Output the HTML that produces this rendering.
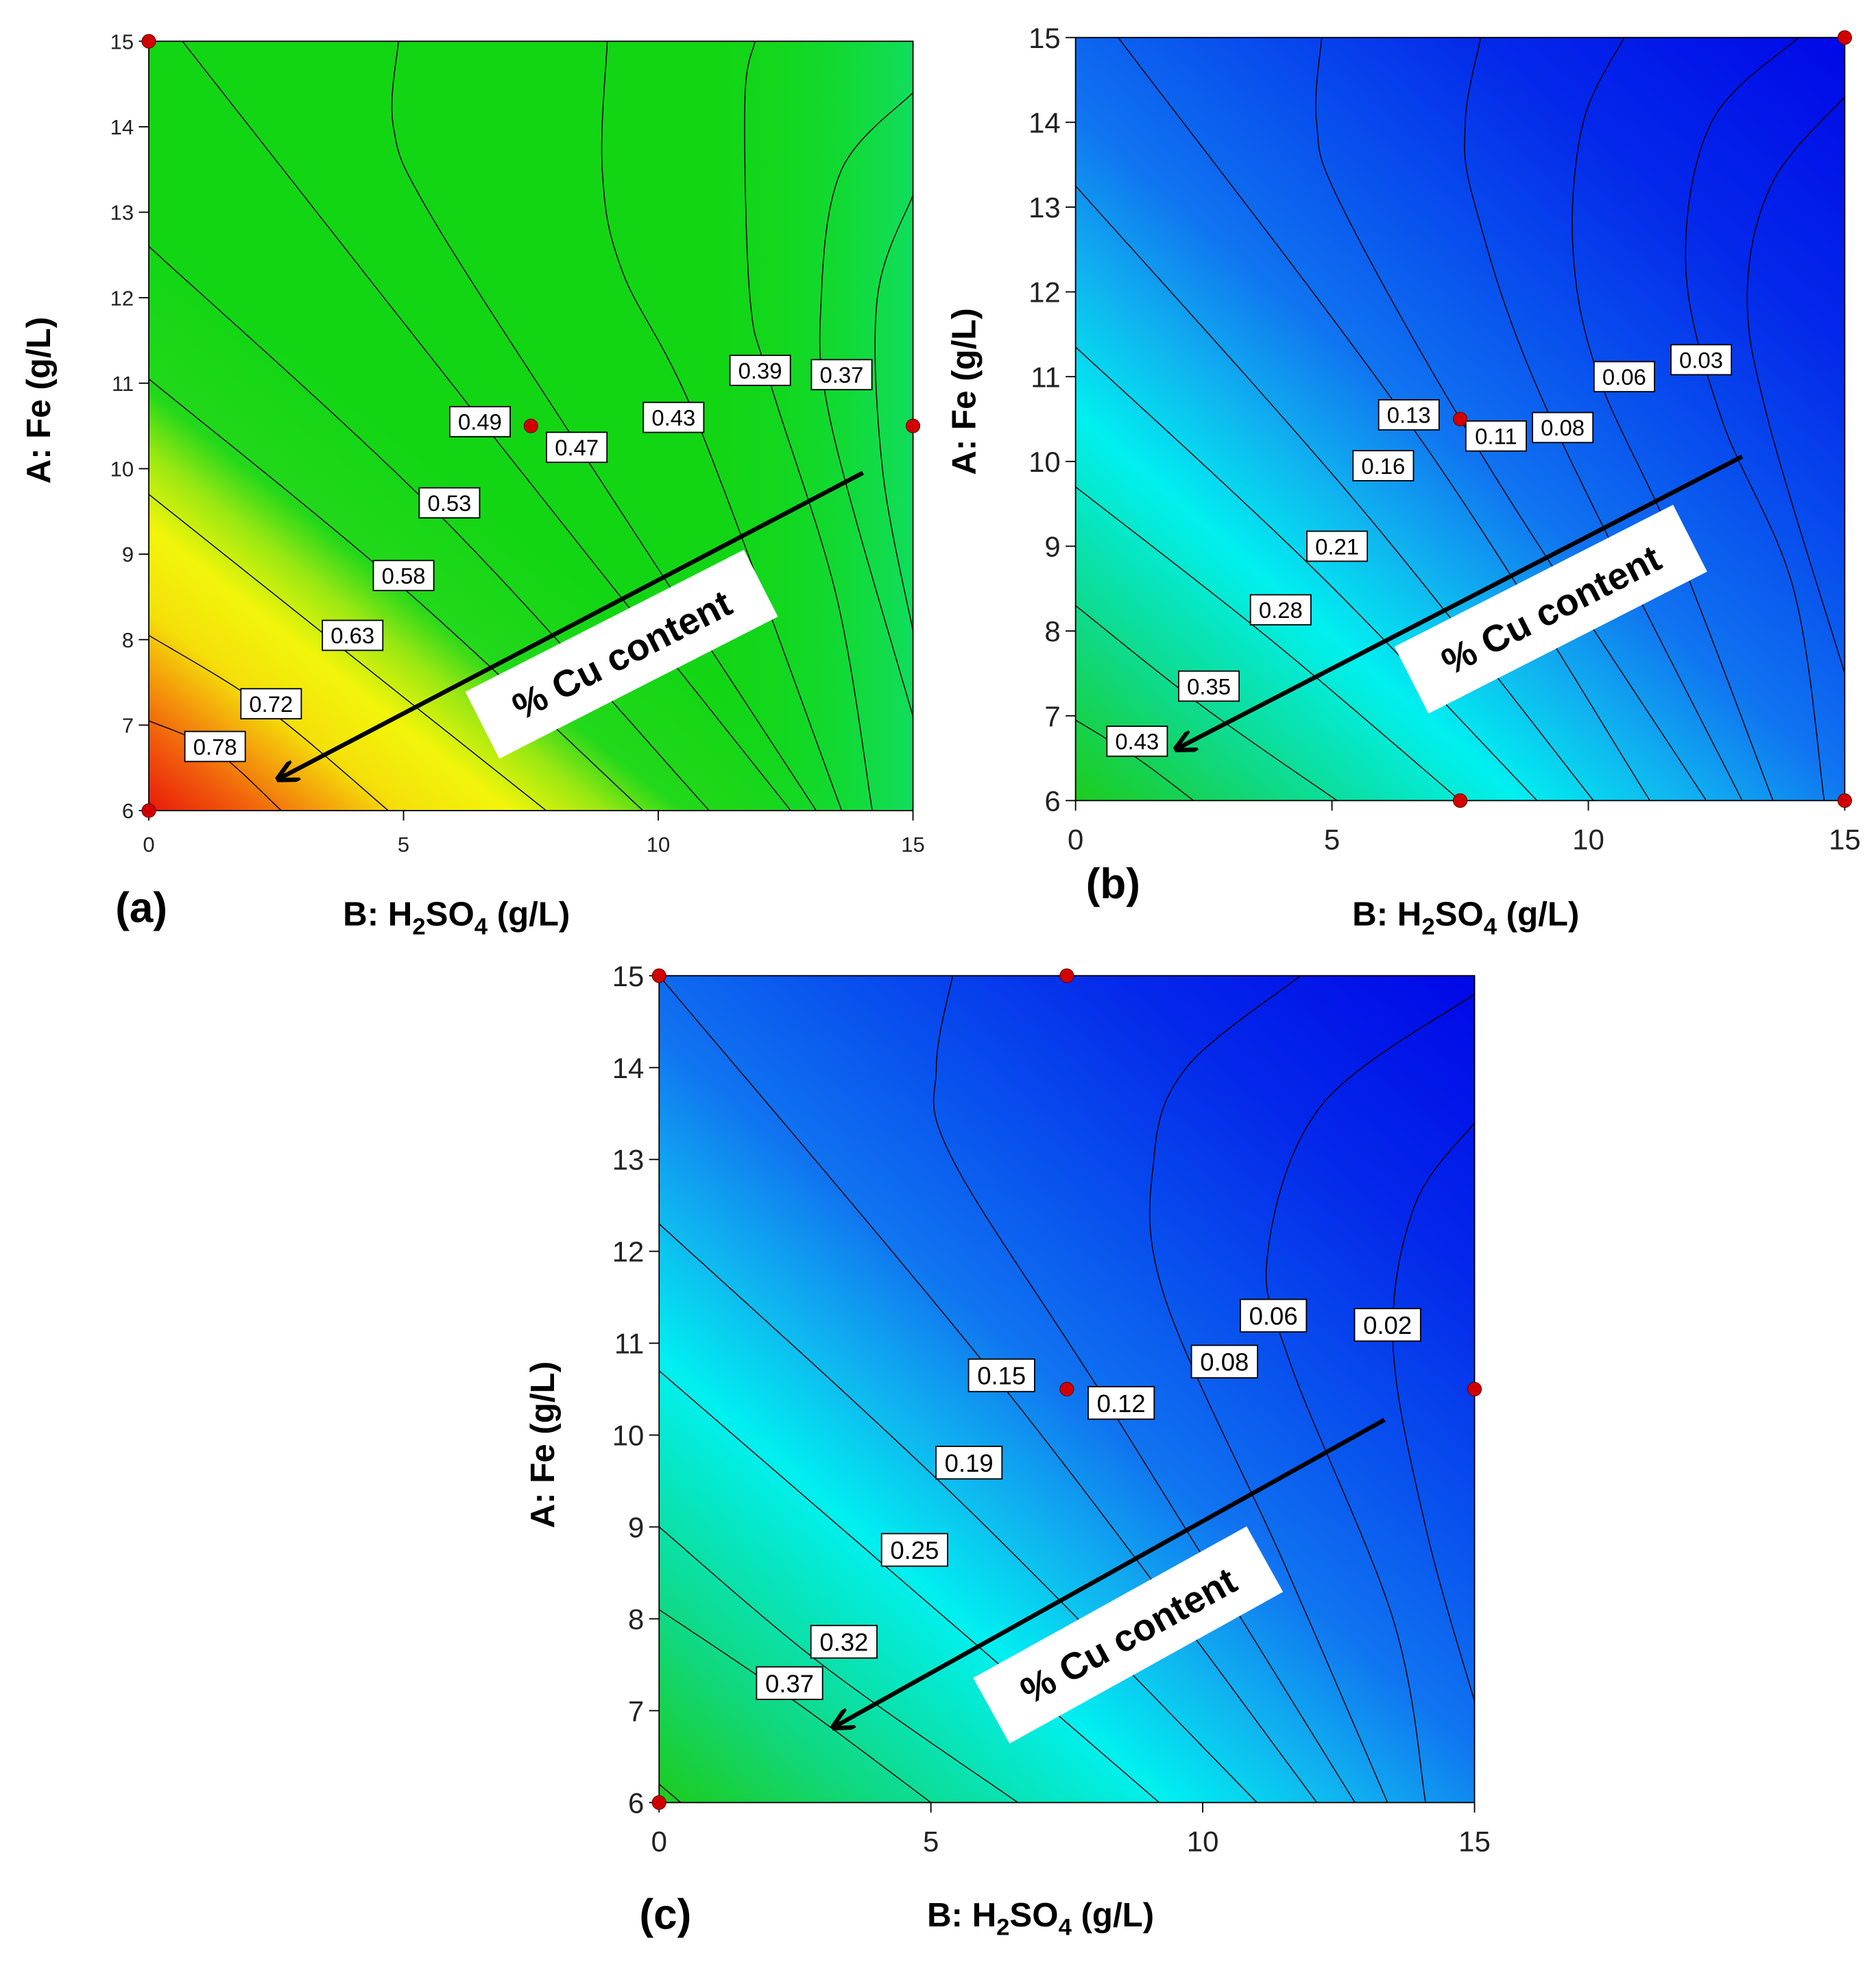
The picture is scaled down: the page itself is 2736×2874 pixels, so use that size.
<!DOCTYPE html>
<html><head><meta charset="utf-8"><style>
html,body{margin:0;padding:0;background:#fff}
svg{display:block}
</style></head><body>
<svg id="fig" xmlns="http://www.w3.org/2000/svg" width="2736" height="2874" viewBox="0 0 1500 1575.66" preserveAspectRatio="none" font-family="'Liberation Sans', sans-serif">
<defs>
<linearGradient id="gA" gradientUnits="userSpaceOnUse" x1="119" y1="648" x2="340" y2="367">
<stop offset="0" stop-color="#e81a0a"/><stop offset="0.15" stop-color="#f2640c"/><stop offset="0.35" stop-color="#f5e00a"/><stop offset="0.5" stop-color="#f2f50a"/><stop offset="0.63" stop-color="#9ae812"/><stop offset="0.74" stop-color="#22d81a"/><stop offset="1" stop-color="#12d614"/>
</linearGradient>
<linearGradient id="gA2" gradientUnits="userSpaceOnUse" x1="560" y1="340" x2="730" y2="340">
<stop offset="0" stop-color="#12d614" stop-opacity="0"/><stop offset="1" stop-color="#10e070" stop-opacity="0.8"/>
</linearGradient>
<linearGradient id="gB" gradientUnits="userSpaceOnUse" x1="860" y1="640" x2="1428" y2="-12">
<stop offset="0" stop-color="#1ccc1c"/><stop offset="0.12" stop-color="#10d880"/><stop offset="0.27" stop-color="#00f0f0"/><stop offset="0.37" stop-color="#10b4f0"/><stop offset="0.48" stop-color="#1074f0"/><stop offset="0.62" stop-color="#0850ee"/><stop offset="0.78" stop-color="#0428ea"/><stop offset="1" stop-color="#0008e8"/>
</linearGradient>
<linearGradient id="gC" gradientUnits="userSpaceOnUse" x1="527" y1="1441" x2="1135" y2="743">
<stop offset="0" stop-color="#1ccc1c"/><stop offset="0.12" stop-color="#10d880"/><stop offset="0.29" stop-color="#00f0f0"/><stop offset="0.39" stop-color="#10b4f0"/><stop offset="0.5" stop-color="#1074f0"/><stop offset="0.64" stop-color="#0850ee"/><stop offset="0.8" stop-color="#0428ea"/><stop offset="1" stop-color="#0008e8"/>
</linearGradient>
<marker id="arr" viewBox="0 0 10 10" refX="8" refY="5" markerWidth="5" markerHeight="5" orient="auto"><path d="M0,0 L10,5 L0,10" fill="none" stroke="#000" stroke-width="2"/></marker>
</defs>
</svg>
<script>
// ---- data ----
const xTicks = [0, 5, 10, 15];
const yTicks = [6, 7, 8, 9, 10, 11, 12, 13, 14, 15];
// contour polylines in data coords [B, A]
const contoursA = [
 [[0,7.05],[1.3,6.7],[2.6,6]],
 [[0,8.05],[2.3,7.2],[4.7,6]],
 [[0,9.7],[4,7.8],[7.8,6]],
 [[0,11.05],[5,8.6],[9.7,6]],
 [[0,12.6],[5.8,9.4],[11.0,6]],
 [[0.66,15],[6.6,10.5],[12.6,6]],
 [[4.9,15],[4.8,14],[5.5,13],[8.5,10.2],[13.1,6]],
 [[9.0,15],[8.9,13.5],[9.3,12.3],[10.8,10.5],[13.6,6]],
 [[11.9,15],[11.7,14.3],[11.8,12],[12.2,11],[13.5,8.5],[14.2,6]],
 [[15,14.4],[13.6,13.5],[13.2,12],[13.4,10.5],[15,7.1]],
 [[15,13.2],[14.3,12],[14.4,10],[15,8.1]]
];
const contoursB = [
 [[0,6.95],[1.2,6.5],[2.3,6]],
 [[0,8.3],[2.5,7.1],[5.1,6]],
 [[0,9.7],[3.8,7.9],[7.5,6]],
 [[0,11.35],[4.7,8.7],[9.0,6]],
 [[0,13.25],[5.5,9.5],[10.1,6]],
 [[0.83,15],[6.8,10.2],[11.2,6]],
 [[4.8,15],[4.7,14],[5.2,13],[8.0,10],[12.3,6]],
 [[7.9,15],[7.6,14],[7.8,13],[9.2,10.6],[13.0,6]],
 [[10.7,15],[9.9,14],[9.7,12.5],[10.2,11],[11.7,9],[13.6,6]],
 [[14.1,15],[12.4,14],[11.9,12.3],[12.6,10.5],[14,8.5],[14.6,6]],
 [[15,14.3],[13.6,13.3],[13.1,12],[13.5,10.5],[15,7.5]]
];
const contoursC = [
 [[0,6.2],[0.4,6]],
 [[0,8.1],[2.5,7.1],[5.0,6]],
 [[0,9.0],[3,7.5],[6.6,6]],
 [[0,10.7],[4.5,8.4],[9.2,6]],
 [[0,12.3],[5.5,9.3],[11.0,6]],
 [[0,15],[6.5,10.4],[12.1,6]],
 [[5.4,15],[5.1,14],[5.4,13],[8.3,10.3],[12.8,6]],
 [[11.8,15],[9.7,14],[9.1,13],[9.3,11.5],[11.5,8.6],[13.4,6]],
 [[15,14.8],[12.2,13.6],[11.2,12],[11.6,10.8],[13.5,8],[14.1,6]],
 [[15,13.4],[13.9,12.5],[13.5,11],[14.1,9],[15,7.1]]
];
const labelTextA = ["0.78","0.72","0.63","0.58","0.53","0.49","0.47","0.43","0.39","0.37"];
const labelPosA = [[1.3,6.75],[2.4,7.25],[4.0,8.05],[5.0,8.75],[5.9,9.6],[6.5,10.55],[8.4,10.25],[10.3,10.6],[12.0,11.15],[13.6,11.1]];
const labelTextB = ["0.43","0.35","0.28","0.21","0.16","0.13","0.11","0.08","0.06","0.03"];
const labelPosB = [[1.2,6.7],[2.6,7.35],[4.0,8.25],[5.1,9.0],[6.0,9.95],[6.5,10.55],[8.2,10.3],[9.5,10.4],[10.7,11.0],[12.2,11.2]];
const labelTextC = ["0.37","0.32","0.25","0.19","0.15","0.12","0.08","0.06","0.02"];
const labelPosC = [[2.4,7.3],[3.4,7.75],[4.7,8.75],[5.7,9.7],[6.3,10.65],[8.5,10.35],[10.4,10.8],[11.3,11.3],[13.4,11.2]];
const designPtsA = [[0,15],[7.5,10.5],[15,10.5],[0,6]];
const designPtsB = [[15,15],[7.5,10.5],[7.5,6],[15,6]];
const designPtsC = [[0,15],[7.5,15],[7.5,10.5],[15,10.5],[0,6]];

const NS = "http://www.w3.org/2000/svg";
const svg = document.getElementById('fig');
function mk(tag, attrs, parent){const e=document.createElementNS(NS,tag);for(const k in attrs)e.setAttribute(k,attrs[k]);(parent||svg).appendChild(e);return e;}
function smooth(pts){
 if(pts.length<3){return "M"+pts.map(p=>p[0].toFixed(1)+","+p[1].toFixed(1)).join(" L");}
 let d="M"+pts[0][0]+","+pts[0][1];
 for(let i=0;i<pts.length-1;i++){
  const p0=pts[i-1]||pts[i],p1=pts[i],p2=pts[i+1],p3=pts[i+2]||p2;
  const c1=[p1[0]+(p2[0]-p0[0])/6,p1[1]+(p2[1]-p0[1])/6];
  const c2=[p2[0]-(p3[0]-p1[0])/6,p2[1]-(p3[1]-p1[1])/6];
  d+=" C"+c1.join(",")+" "+c2.join(",")+" "+p2.join(",");
 }
 return d;
}
function panel(cfg){
 const {id,x0,x1,y0,y1,fill,contours,lt,lp,pts,fs,lfs}=cfg;
 const sx=b=>x0+(x1-x0)*b/15, sy=a=>y1-(y1-y0)*(a-6)/9;
 const g=mk('g',{});
 
 
 const bg=mk('rect',{x:x0,y:y0,width:x1-x0,height:y1-y0,fill:fill},g);
 
 
 if(cfg.overlay){const o=mk('rect',{x:x0,y:y0,width:x1-x0,height:y1-y0,fill:cfg.overlay},g);}
 contours.forEach((c,i)=>{
  const p=mk('path',{d:smooth(c.map(q=>[sx(q[0]),sy(q[1])])),fill:'none',stroke:'#000','stroke-width':0.8},g);
  
  
 });
 mk('rect',{x:x0,y:y0,width:x1-x0,height:y1-y0,fill:'none',stroke:'#000','stroke-width':1},g);
 lt.forEach((t,i)=>{
  const cx=sx(lp[i][0]),cy=sy(lp[i][1]);
  const w=t.length*lfs*0.56+8,h=lfs+6;
  const lg=mk('g',{},g);
  
  
  mk('rect',{x:cx-w/2,y:cy-h/2,width:w,height:h,fill:'#fff',stroke:'#000','stroke-width':1},lg);
  const tx=mk('text',{x:cx,y:cy+lfs*0.36,'font-size':lfs,'text-anchor':'middle'},lg);tx.textContent=t;
 });
 yTicks.forEach(v=>{
  const tk=mk('line',{x1:x0-8,x2:x0,y1:sy(v),y2:sy(v),stroke:'#000','stroke-width':1},g);
  
  
  const t=mk('text',{x:x0-12,y:sy(v)+fs*0.36,'font-size':fs,'text-anchor':'end',fill:'#222'},g);t.textContent=v;
  
  
 });
 xTicks.forEach(v=>{
  const tk=mk('line',{x1:sx(v),x2:sx(v),y1:y1,y2:y1+8,stroke:'#000','stroke-width':1},g);
  
  
  const t=mk('text',{x:sx(v),y:y1+fs+16,'font-size':fs,'text-anchor':'middle',fill:'#222'},g);t.textContent=v;
  
  
 });
 pts.forEach(p=>{
  const c=mk('circle',{cx:sx(p[0]),cy:sy(p[1]),r:5.5,fill:'#d10000',stroke:'#600','stroke-width':0.6},g);
  
  
 });
 const [ax1,ay1,ax2,ay2]=cfg.arrow;
 const ar=mk('line',{x1:ax1,y1:ay1,x2:ax2,y2:ay2,stroke:'#000','stroke-width':3.5,'marker-end':'url(#arr)'},g);
 
 
 const [bx,by,ang]=cfg.box;
 const bg2=mk('g',{transform:`translate(${bx},${by}) rotate(${ang})`},g);
 
 
 mk('rect',{x:-125,y:-30,width:250,height:60,fill:'#fff'},bg2);
 const ct=mk('text',{x:0,y:11,'font-size':30,'font-weight':'bold','text-anchor':'middle'},bg2);
 ct.textContent='% Cu content';
 const [yx,yy]=cfg.ytitle;
 const yt=mk('text',{x:0,y:0,transform:`translate(${yx},${yy}) rotate(-90)`,'font-size':27,'font-weight':'bold','text-anchor':'middle'},g);
 yt.textContent='A: Fe (g/L)';
 
 
 const [xx,xy]=cfg.xtitle;
 const xt=mk('text',{x:xx,y:xy,'font-size':27,'font-weight':'bold','text-anchor':'middle'},g);
 xt.innerHTML='B: H<tspan dy="7" font-size="19">2</tspan><tspan dy="-7">SO</tspan><tspan dy="7" font-size="19">4</tspan><tspan dy="-7"> (g/L)</tspan>';
 
 
 const [lx,ly]=cfg.letter;
 const pl=mk('text',{x:lx,y:ly,'font-size':34,'font-weight':'bold','text-anchor':'middle'},g);
 pl.textContent='('+id+')';
 
 
}
panel({id:'a',x0:119,x1:730,y0:33,y1:648,fill:'url(#gA)',overlay:'url(#gA2)',contours:contoursA,lt:labelTextA,lp:labelPosA,pts:designPtsA,fs:17,lfs:18,
 arrow:[690,378,224,622],box:[497,523,-27],ytitle:[40,320],xtitle:[365,740],letter:[113,737]});
panel({id:'b',x0:860,x1:1475,y0:30,y1:640,fill:'url(#gB)',contours:contoursB,lt:labelTextB,lp:labelPosB,pts:designPtsB,fs:23,lfs:18,
 arrow:[1393,365,942,598],box:[1240,487,-27],ytitle:[780,313],xtitle:[1172,740],letter:[890,718]});
panel({id:'c',x0:527,x1:1179,y0:780,y1:1441,fill:'url(#gC)',contours:contoursC,lt:labelTextC,lp:labelPosC,pts:designPtsC,fs:23,lfs:20,
 arrow:[1107,1135,668,1380],box:[902,1307,-29],ytitle:[443,1155],xtitle:[832,1540],letter:[532,1542]});
</script>
</body></html>
